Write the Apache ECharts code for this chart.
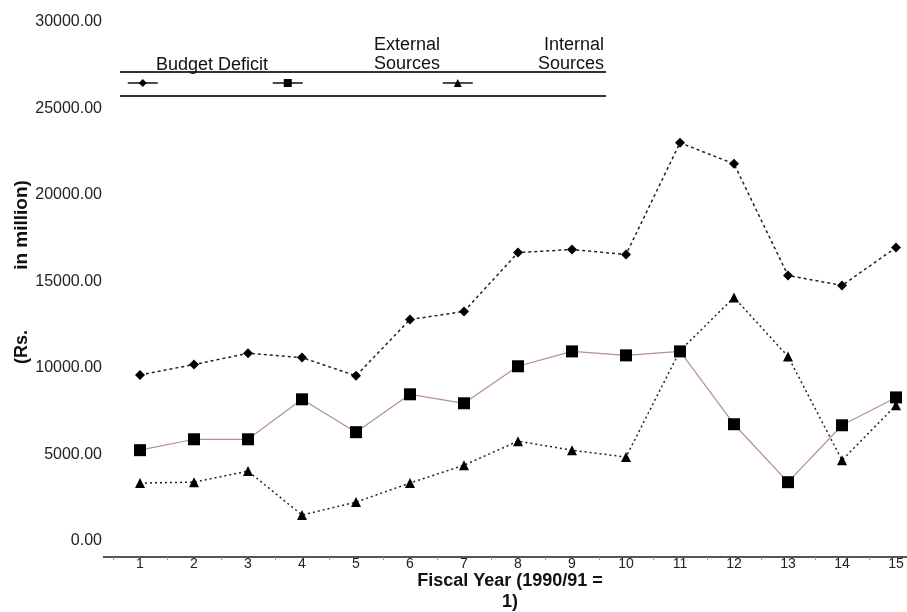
<!DOCTYPE html>
<html>
<head>
<meta charset="utf-8">
<script src="https://cdn.jsdelivr.net/npm/echarts@6/dist/echarts.min.js"></script>
<style>html,body{margin:0;padding:0;background:#fff;}#c{width:907px;height:612px;}</style>
</head>
<body>
<div id="c"></div>
<script>
const categories = ['1','2','3','4','5','6','7','8','9','10','11','12','13','14','15'];
const seriesNames = ['Budget Deficit', 'External Sources', 'Internal Sources'];
const budgetDeficit = [9600, 10200, 10850, 10600, 9550, 12800, 13270, 16670, 16850, 16560, 23020, 21800, 15350, 14770, 16960];
const externalSources = [5250, 5880, 5880, 8190, 6290, 8480, 7960, 10100, 10960, 10730, 10960, 6750, 3400, 6690, 8300];
const internalSources = [3350, 3400, 4040, 1500, 2250, 3350, 4380, 5770, 5250, 4850, 11000, 14080, 10670, 4670, 7850];
const yTicks = { min: 0, max: 30000, interval: 5000 };
const xTitle = 'Fiscal Year (1990/91 =\n1)';
const yTitleParts = ['(Rs.', 'in million)'];

const font = 'Liberation Sans, Arial, sans-serif';
const chart = echarts.init(document.getElementById('c'), null, { renderer: 'canvas' });

const legendBase = {
  top: 78, itemWidth: 30, itemHeight: 10, formatter: () => '',
  lineStyle: { type: 'solid', color: '#111', width: 1.5 },
  itemStyle: { color: '#000' },
  selectedMode: false, padding: 0
};

chart.setOption({
  animation: false,
  backgroundColor: '#fff',
  grid: { left: 113, right: -16, top: 22, bottom: 71, containLabel: false, outerBoundsMode: 'none' },
  xAxis: {
    type: 'category', data: categories, boundaryGap: true, offset: 16,
    axisLine: { onZero: false, lineStyle: { color: '#555', width: 2 } },
    axisTick: { show: true, length: 3, lineStyle: { color: '#999' } },
    axisLabel: { color: '#222', fontFamily: font, fontSize: 14, margin: 0 }
  },
  yAxis: {
    type: 'value', min: yTicks.min, max: yTicks.max, interval: yTicks.interval,
    axisLine: { show: false }, axisTick: { show: false }, splitLine: { show: false },
    axisLabel: { formatter: v => v.toFixed(2), color: '#222', fontFamily: font, fontSize: 16, margin: 11 }
  },
  legend: [
    Object.assign({}, legendBase, { data: [seriesNames[0]], left: 127 }),
    Object.assign({}, legendBase, { data: [seriesNames[1]], left: 272 }),
    Object.assign({}, legendBase, { data: [seriesNames[2]], left: 442 })
  ],
  graphic: [
    { type: 'line', shape: { x1: 120, y1: 72, x2: 606, y2: 72 }, style: { stroke: '#333', lineWidth: 2 } },
    { type: 'line', shape: { x1: 120, y1: 96, x2: 606, y2: 96 }, style: { stroke: '#333', lineWidth: 2 } },
    { type: 'line', shape: { x1: 103, y1: 557, x2: 114, y2: 557 }, style: { stroke: '#555', lineWidth: 2 } },
    { type: 'text', x: 212, y: 65, style: { text: seriesNames[0], font: '18px ' + font, fill: '#111', align: 'center', verticalAlign: 'middle' } },
    { type: 'text', x: 374, y: 36, style: { text: 'External\nSources', font: '18px ' + font, fill: '#111', lineHeight: 19, align: 'left', verticalAlign: 'top' } },
    { type: 'text', x: 604, y: 36, style: { text: 'Internal\nSources', font: '18px ' + font, fill: '#111', lineHeight: 19, align: 'right', verticalAlign: 'top' } },
    { type: 'text', x: 510, y: 571, style: { text: xTitle, font: 'bold 18px ' + font, fill: '#111', lineHeight: 21, align: 'center', verticalAlign: 'top' } },
    { type: 'text', x: 22, y: 347, rotation: Math.PI / 2, style: { text: yTitleParts[0], font: 'bold 18px ' + font, fill: '#111', align: 'center', verticalAlign: 'middle' } },
    { type: 'text', x: 22, y: 225, rotation: Math.PI / 2, style: { text: yTitleParts[1], font: 'bold 19px ' + font, fill: '#111', align: 'center', verticalAlign: 'middle' } }
  ],
  series: [
    {
      name: seriesNames[0], type: 'line', data: budgetDeficit,
      symbol: 'diamond', symbolSize: 10, itemStyle: { color: '#000' },
      lineStyle: { color: '#222', width: 1.5, type: [3, 3] }
    },
    {
      name: seriesNames[1], type: 'line', data: externalSources,
      symbol: 'rect', symbolSize: 12, itemStyle: { color: '#000' },
      lineStyle: { color: '#b58aa5', width: 1.2, type: 'solid' }
    },
    {
      name: seriesNames[2], type: 'line', data: internalSources,
      symbol: 'triangle', symbolSize: 10, itemStyle: { color: '#000' },
      lineStyle: { color: '#222', width: 1.5, type: [2, 3] }
    }
  ]
});
</script>
</body>
</html>
